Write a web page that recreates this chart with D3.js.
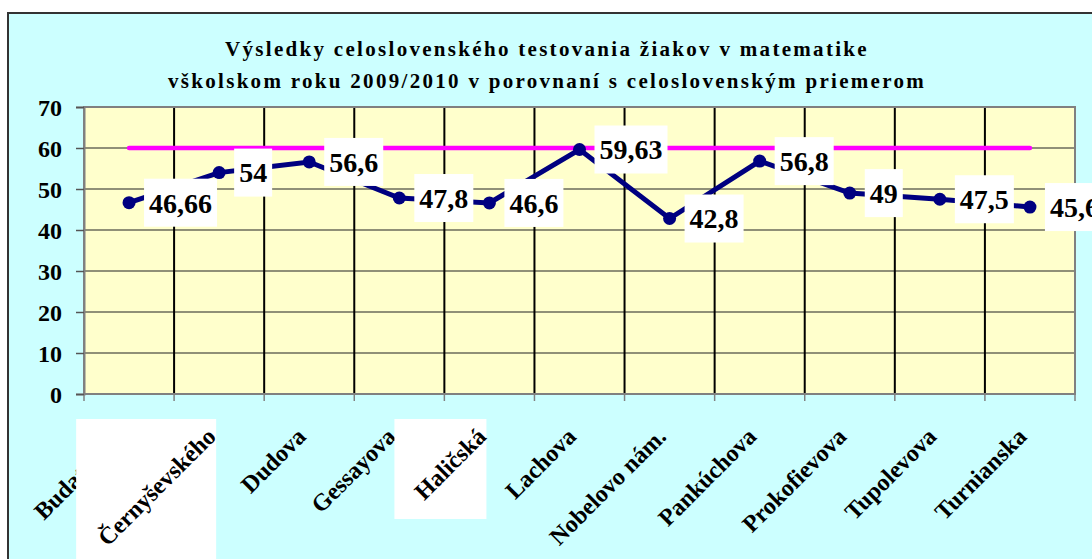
<!DOCTYPE html>
<html lang="sk">
<head>
<meta charset="utf-8">
<title>Výsledky testovania</title>
<script src="https://d3js.org/d3.v7.min.js"></script>
<style>
  body { margin: 0; background: #fff; }
  svg text { font-family: "Liberation Serif", "Times New Roman", serif; font-weight: bold; }
</style>
</head>
<body>
<svg id="chart" width="1092" height="559"></svg>
<script>
// data
var categories = ["Budatínska", "Černyševského", "Dudova", "Gessayova", "Haličská", "Lachova",
  "Nobelovo nám.", "Pankúchova", "Prokofievova", "Tupolevova", "Turnianska"]
var schoolValues = [46.66, 54, 56.6, 47.8, 46.6, 59.63, 42.8, 56.8, 49, 47.5, 45.6]
var nationalAverage = [60, 60, 60, 60, 60, 60, 60, 60, 60, 60, 60]
var yTicks = [0, 10, 20, 30, 40, 50, 60, 70]
var labelTexts = ["46,66", "54", "56,6", "47,8", "46,6", "59,63", "42,8", "56,8", "49", "47,5", "45,6"]
var titleLines = ["Výsledky celoslovenského testovania žiakov v matematike",
  "vškolskom roku 2009/2010 v porovnaní s celoslovenským priemerom"]
// labels that came out as pasted pictures on a white box in the original
var boxedLabels = ["Černyševského", "Haličská"]

var svg = d3.select('#chart')
var plot = { left: 84, right: 1075, top: 107, bottom: 394 }

// outer chart frame
svg.append('rect')
  .attr('x', 8).attr('y', 13)
  .attr('width', 1100).attr('height', 560)
  .attr('fill', '#ccffff')
  .attr('stroke', '#333').attr('stroke-width', 2)

svg.selectAll('text.title')
  .data(titleLines)
  .enter().append('text')
    .attr('class', 'title')
    .attr('x', 547)
    .attr('y', function (d, i) { return 56 + i * 32 })
    .attr('text-anchor', 'middle')
    .attr('font-size', 21)
    .attr('letter-spacing', 2.3)
    .text(function (d) { return d })

var x = d3.scaleBand().domain(categories).range([plot.left, plot.right])
var y = d3.scaleLinear().domain([0, 70]).range([plot.bottom, plot.top])
var cx = function (c) { return x(c) + x.bandwidth() / 2 }

svg.append('rect')
  .attr('x', plot.left).attr('y', plot.top)
  .attr('width', plot.right - plot.left).attr('height', plot.bottom - plot.top)
  .attr('fill', '#ffffcc')

// horizontal grid
svg.append('g')
  .selectAll('line')
  .data(yTicks.slice(1))
  .enter().append('line')
    .attr('x1', plot.left).attr('x2', plot.right)
    .attr('y1', function (d) { return y(d) }).attr('y2', function (d) { return y(d) })
    .attr('stroke', '#222').attr('stroke-width', 1.2)

// vertical grid on category boundaries
var bounds = categories.map(function (c) { return x(c) }).slice(1)
svg.append('g')
  .selectAll('line')
  .data(bounds)
  .enter().append('line')
    .attr('x1', function (d) { return d }).attr('x2', function (d) { return d })
    .attr('y1', plot.top).attr('y2', plot.bottom)
    .attr('stroke', '#000').attr('stroke-width', 2)

// plot border
svg.append('rect')
  .attr('x', plot.left).attr('y', plot.top)
  .attr('width', plot.right - plot.left).attr('height', plot.bottom - plot.top)
  .attr('fill', 'none').attr('stroke', '#808080').attr('stroke-width', 2)

// bottom tick marks
svg.append('g')
  .selectAll('line')
  .data(bounds.concat([plot.left, plot.right]))
  .enter().append('line')
    .attr('x1', function (d) { return d }).attr('x2', function (d) { return d })
    .attr('y1', plot.bottom).attr('y2', plot.bottom + 7)
    .attr('stroke', '#808080').attr('stroke-width', 1.5)

var yAxis = svg.append('g')
  .attr('transform', 'translate(' + plot.left + ',0)')
  .call(d3.axisLeft(y).tickValues(yTicks).tickSize(8).tickPadding(14))
yAxis.select('.domain').attr('stroke', '#808080').attr('stroke-width', 2)
yAxis.selectAll('.tick line').attr('stroke', '#555').attr('stroke-width', 1.5)
yAxis.selectAll('.tick text')
  .attr('font-size', 24).attr('fill', '#000')
  .attr('font-family', '"Liberation Serif", serif').attr('font-weight', 'bold')
  .attr('dy', '0.34em')

// category labels
var xLabels = svg.append('g')
categories.forEach(function (c) {
  var px = cx(c), py = plot.bottom + 44
  if (boxedLabels.indexOf(c) > -1) {
    var w = c === "Haličská" ? 92 : 140
    var h = c === "Haličská" ? 100 : 150
    xLabels.append('rect')
      .attr('x', px - w - 3).attr('y', plot.bottom + 25)
      .attr('width', w).attr('height', h)
      .attr('fill', '#fff')
  }
  xLabels.append('text')
    .attr('transform', 'translate(' + (px - 2) + ',' + py + ') rotate(-45)')
    .attr('text-anchor', 'end')
    .attr('font-size', 24)
    .text(c)
})

// national average line
svg.append('path')
  .datum(nationalAverage)
  .attr('fill', 'none')
  .attr('stroke', '#ff00ff').attr('stroke-width', 4.5)
  .attr('stroke-linecap', 'round')
  .attr('d', d3.line()
    .x(function (d, i) { return cx(categories[i]) })
    .y(function (d) { return y(d) }))

// school results
svg.append('path')
  .datum(schoolValues)
  .attr('fill', 'none')
  .attr('stroke', '#000080').attr('stroke-width', 5)
  .attr('d', d3.line()
    .x(function (d, i) { return cx(categories[i]) })
    .y(function (d) { return y(d) }))

svg.append('g')
  .selectAll('circle')
  .data(schoolValues)
  .enter().append('circle')
    .attr('cx', function (d, i) { return cx(categories[i]) })
    .attr('cy', function (d) { return y(d) })
    .attr('r', 6.5)
    .attr('fill', '#000080')

// data labels in white boxes
var lab = svg.append('g')
  .selectAll('g')
  .data(schoolValues)
  .enter().append('g')
    .attr('transform', function (d, i) { return 'translate(' + (cx(categories[i]) + 15) + ',' + y(d) + ')' })
lab.append('text')
  .attr('x', 5).attr('dy', '0.35em')
  .attr('font-size', 28)
  .text(function (d, i) { return labelTexts[i] })
lab.insert('rect', 'text')
  .attr('x', 0).attr('y', -24)
  .attr('height', 48)
  .attr('width', function () { return this.parentNode.querySelector('text').getComputedTextLength() + 10 })
  .attr('fill', '#fff')
</script>
</body>
</html>
